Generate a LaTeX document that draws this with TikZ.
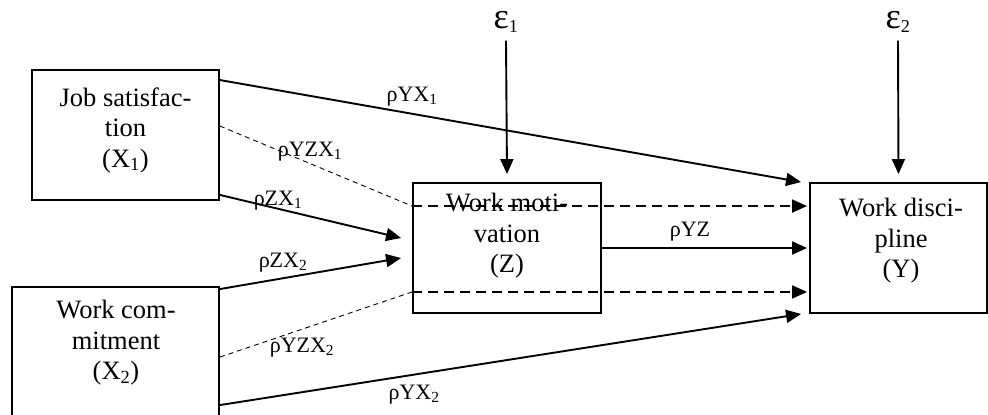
\documentclass[tikz,border=0pt]{standalone}
\usepackage{fontspec}
\setmainfont{Liberation Serif}
\usepackage{graphicx}
\usetikzlibrary{arrows.meta}
\begin{document}
\begin{tikzpicture}[x=1pt,y=-1pt,
  box/.style={draw,line width=1.9pt,inner sep=0pt},
  btext/.style={align=center,inner sep=0pt,font=\fontsize{26.5}{30.5}\selectfont},
  lab/.style={inner sep=0pt,font=\fontsize{22}{25}\selectfont},
  eps/.style={inner sep=0pt,font=\fontsize{26}{30}\selectfont},
  arr/.style={line width=1.9pt,-{Triangle[length=15pt,width=13pt]}},
  thindash/.style={line width=0.9pt,dash pattern=on 5pt off 4pt},
  darr/.style={arr,dash pattern=on 10pt off 6pt}]
\clip (0,0) rectangle (988,415);
% boxes
\node[box,minimum width=187pt,minimum height=130pt] (x1) at (125.5,135) {};
\node[box,minimum width=207pt,minimum height=133pt] (x2) at (115.5,353.5) {};
\node[box,minimum width=188pt,minimum height=130pt] (z) at (507,248) {};
\node[box,minimum width=177pt,minimum height=130pt] (y) at (898.5,248) {};
% box texts
\node[btext] (tx1) at (125.5,130) {Job satisfac-\\tion\\(X\textsubscript{1})};
\node[btext] (tx2) at (116,343) {Work com-\\mitment\\(X\textsubscript{2})};
\node[btext] (tz) at (507,236) {Work moti-\\vation\\(Z)};
\node[btext] (ty) at (901,241) {Work disci-\\pline\\(Y)};
% errors
\node[eps] (e1) at (506,22) {\scalebox{1.4}{ε}\textsubscript{1}};
\node[eps] (e2) at (898,22) {\scalebox{1.4}{ε}\textsubscript{2}};
% labels
\node[lab] (lyx1) at (412,97) {ρYX\textsubscript{1}};
\node[lab] (lyzx1) at (310,152) {ρYZX\textsubscript{1}};
\node[lab] (lzx1) at (278,201) {ρZX\textsubscript{1}};
\node[lab] (lzx2) at (283,263) {ρZX\textsubscript{2}};
\node[lab] (lyzx2) at (302,348) {ρYZX\textsubscript{2}};
\node[lab] (lyx2) at (414,395) {ρYX\textsubscript{2}};
\node[lab] (lyz) at (690,232) {ρYZ};
% connectors
\draw[arr] ([yshift=-8pt]e1.south) -- ([yshift=8pt]z.north);
\draw[arr] ([yshift=-8pt]e2.south) -- ([yshift=8pt]y.north);
\draw[arr] ([yshift=-11pt]x1.north east) -- ([xshift=-8pt]y.north west);
\draw[arr] ([yshift=6pt]x1.south east) -- ([xshift=-11pt,yshift=10pt]z.west);
\draw[arr] ([yshift=-3pt]x2.north east) -- ([xshift=-11pt,yshift=-10pt]z.west);
\draw[arr] ([yshift=-119pt]x2.north east) -- ([xshift=-8pt]y.south west);
\draw[arr] (z.east) -- ([xshift=-2pt]y.west);
\draw[thindash] ([yshift=-57pt]x1.north east) -- ([yshift=-24pt]z.north west);
\draw[darr] ([yshift=-24pt]z.north west) -- ([xshift=-2pt,yshift=-24pt]y.north west);
\draw[thindash] ([yshift=-71pt]x2.north east) -- ([yshift=22pt]z.south west);
\draw[darr] ([yshift=22pt]z.south west) -- ([xshift=-2pt,yshift=22pt]y.south west);
\end{tikzpicture}
\end{document}
